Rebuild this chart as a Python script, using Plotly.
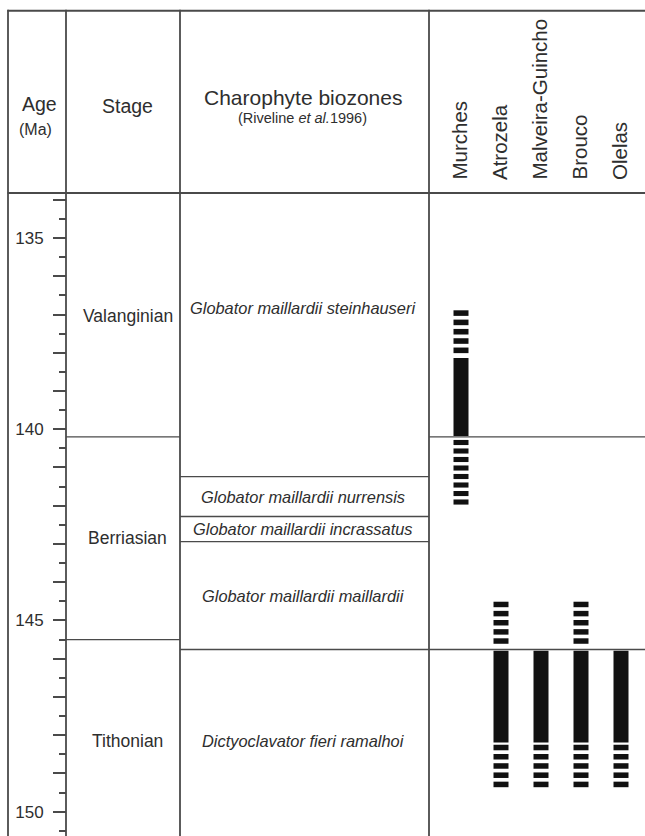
import plotly.graph_objects as go

# ------------------------------------------------------------------ data
localities = ["Murches", "Atrozela", "Malveira-Guincho", "Brouco", "Olelas"]

stages = ["Valanginian", "Berriasian", "Tithonian"]
stage_boundaries = [140.2, 145.5]           # Ma

biozones = [
    "Globator maillardii steinhauseri",
    "Globator maillardii nurrensis",
    "Globator maillardii incrassatus",
    "Globator maillardii maillardii",
    "Dictyoclavator fieri ramalhoi",
]
biozone_boundaries = [141.24, 142.28, 142.94, 145.76]   # Ma
locality_boundaries = [140.2, 145.76]                   # Ma

# confirmed occurrence ranges (solid bars)
confirmed_locality = ["Murches", "Atrozela", "Malveira-Guincho", "Brouco", "Olelas"]
confirmed_top = [138.14, 145.79, 145.79, 145.79, 145.79]
confirmed_base = [140.18, 148.19, 148.19, 148.19, 148.19]

# uncertain occurrence ranges (dashed bars)
uncertain_locality = ["Murches", "Murches", "Atrozela", "Atrozela",
                      "Malveira-Guincho", "Brouco", "Brouco", "Olelas"]
uncertain_top = [136.89, 140.28, 144.51, 148.25, 148.25, 144.51, 148.25, 148.25]
uncertain_base = [138.01, 141.97, 145.61, 149.36, 149.36, 145.61, 149.36, 149.36]

age_ticks = [134, 135, 136, 137, 138, 139, 140, 141, 142, 143, 144, 145,
             146, 147, 148, 149, 150]
age_tick_labels = ["", "135", "", "", "", "", "140", "", "", "", "", "145",
                   "", "", "", "", "150"]
age_minor_ticks = [134.5, 135.5, 136.5, 137.5, 138.5, 139.5, 140.5, 141.5,
                   142.5, 143.5, 144.5, 145.5, 146.5, 147.5, 148.5, 149.5, 150.5]

# ------------------------------------------------------------------ layout constants
W, H, TOP = 645, 836, 193
FONT = "Liberation Sans, Arial, sans-serif"
LINE = "#4a4a4a"
TXT = "#2e2e2e"
BAR = "#111111"


def px_x(x):
    return x / W


def px_y(y):
    return (H - y) / (H - TOP)


FRAME_TOP = px_y(10.7)
COL_X = [8, 66, 180, 429]          # column dividers (px)

# y-axis range chosen so that 135 Ma and 150 Ma fall at the reference positions
Y_RANGE = [150.636, 133.823]

# ------------------------------------------------------------------ bars
DASH_PITCH = 0.235
DASH_FILL = 0.6

bx, bbase, blen = [], [], []
for loc, t, b in zip(confirmed_locality, confirmed_top, confirmed_base):
    bx.append(loc)
    bbase.append(t)
    blen.append(b - t)

for loc, t, b in zip(uncertain_locality, uncertain_top, uncertain_base):
    L = b - t
    n = max(1, round((L + DASH_PITCH * (1 - DASH_FILL)) / DASH_PITCH))
    p = L / (n - (1 - DASH_FILL))
    for i in range(n):
        bx.append(loc)
        bbase.append(t + i * p)
        blen.append(DASH_FILL * p)

fig = go.Figure()
fig.add_trace(go.Bar(
    x=bx, y=blen, base=bbase, xaxis="x2", yaxis="y",
    width=0.375, marker=dict(color=BAR, line=dict(width=0)),
    hoverinfo="skip", showlegend=False,
))

# ------------------------------------------------------------------ shapes
shapes = []
# top frame line and header bottom line
shapes.append(dict(type="line", xref="paper", yref="paper", x0=px_x(7.5), x1=1,
                   y0=FRAME_TOP, y1=FRAME_TOP, line=dict(color=LINE, width=2)))
shapes.append(dict(type="line", xref="paper", yref="paper", x0=px_x(7.5), x1=1,
                   y0=1, y1=1, line=dict(color=LINE, width=2.2)))
# vertical column dividers
for cx in COL_X:
    shapes.append(dict(type="line", xref="paper", yref="paper",
                       x0=px_x(cx), x1=px_x(cx), y0=0, y1=FRAME_TOP + 0.0015,
                       line=dict(color=LINE, width=1.8)))
# stage boundaries
for a in stage_boundaries:
    shapes.append(dict(type="line", xref="paper", yref="y", x0=px_x(66), x1=px_x(180),
                       y0=a, y1=a, line=dict(color=LINE, width=1.4)))
# biozone boundaries
for a in biozone_boundaries:
    shapes.append(dict(type="line", xref="paper", yref="y", x0=px_x(180), x1=px_x(429),
                       y0=a, y1=a, line=dict(color=LINE, width=1.4)))
# locality column boundaries
for a in locality_boundaries:
    shapes.append(dict(type="line", xref="paper", yref="y", x0=px_x(429), x1=1,
                       y0=a, y1=a, line=dict(color=LINE, width=1.4)))

# ------------------------------------------------------------------ annotations
ann = []


def txt(text, x, y, size, xref="paper", yref="paper", italic=False, **kw):
    d = dict(text=text, x=x, y=y, xref=xref, yref=yref, showarrow=False,
             xanchor="center", yanchor="middle",
             font=dict(family=FONT, size=size, color=TXT,
                       style="italic" if italic else "normal"))
    d.update(kw)
    ann.append(d)


# header
txt("Age", px_x(39), px_y(104.5), 19.5)
txt("(Ma)", px_x(35), px_y(130), 16)
txt("Stage", px_x(127.5), px_y(106), 19.5)
txt("Charophyte biozones", px_x(302.5), px_y(97.5), 21)
txt("(Riveline <i>et al.</i>1996)", px_x(302.7), px_y(118), 14.5)
for loc in localities:
    ann.append(dict(text=loc, x=loc, y=px_y(182), xref="x2", yref="paper",
                    showarrow=False, textangle=-90, xanchor="center",
                    yanchor="bottom", xshift=-2,
                    font=dict(family=FONT, size=20.5, color=TXT)))

# stage names
stage_label_age = [137.05, 142.84, 148.14]
for s, a in zip(stages, stage_label_age):
    txt(s, px_x(127.5), a, 17.5, yref="y")

# biozone names
biozone_label_age = [136.82,
                     (biozone_boundaries[0] + biozone_boundaries[1]) / 2,
                     (biozone_boundaries[1] + biozone_boundaries[2]) / 2,
                     (biozone_boundaries[2] + biozone_boundaries[3]) / 2,
                     148.15]
for z, a in zip(biozones, biozone_label_age):
    txt(z, px_x(303), a, 16.4, yref="y", italic=True)

# ------------------------------------------------------------------ layout
fig.update_layout(
    width=W, height=H,
    margin=dict(l=0, r=0, t=TOP, b=0, pad=0),
    paper_bgcolor="white", plot_bgcolor="rgba(0,0,0,0)",
    barmode="overlay", showlegend=False,
    shapes=shapes, annotations=ann,
    xaxis=dict(domain=[0, 1], range=[0, W], visible=False),
    xaxis2=dict(domain=[px_x(430), 1], type="category",
                categoryorder="array", categoryarray=localities,
                range=[-0.775, 4.6], visible=False, anchor="y"),
    yaxis=dict(
        range=Y_RANGE, anchor="free", position=px_x(66), side="left",
        showgrid=False, zeroline=False, showline=False,
        tickmode="array", tickvals=age_ticks, ticktext=age_tick_labels,
        ticks="outside", ticklen=13, tickwidth=1.6, tickcolor=LINE,
        ticklabelstandoff=6,
        tickfont=dict(family=FONT, size=17, color=TXT),
        minor=dict(tickmode="array", tickvals=age_minor_ticks, ticks="outside",
                   ticklen=7, tickwidth=1.6, tickcolor=LINE, showgrid=False),
    ),
)

fig.write_html("out.html")
